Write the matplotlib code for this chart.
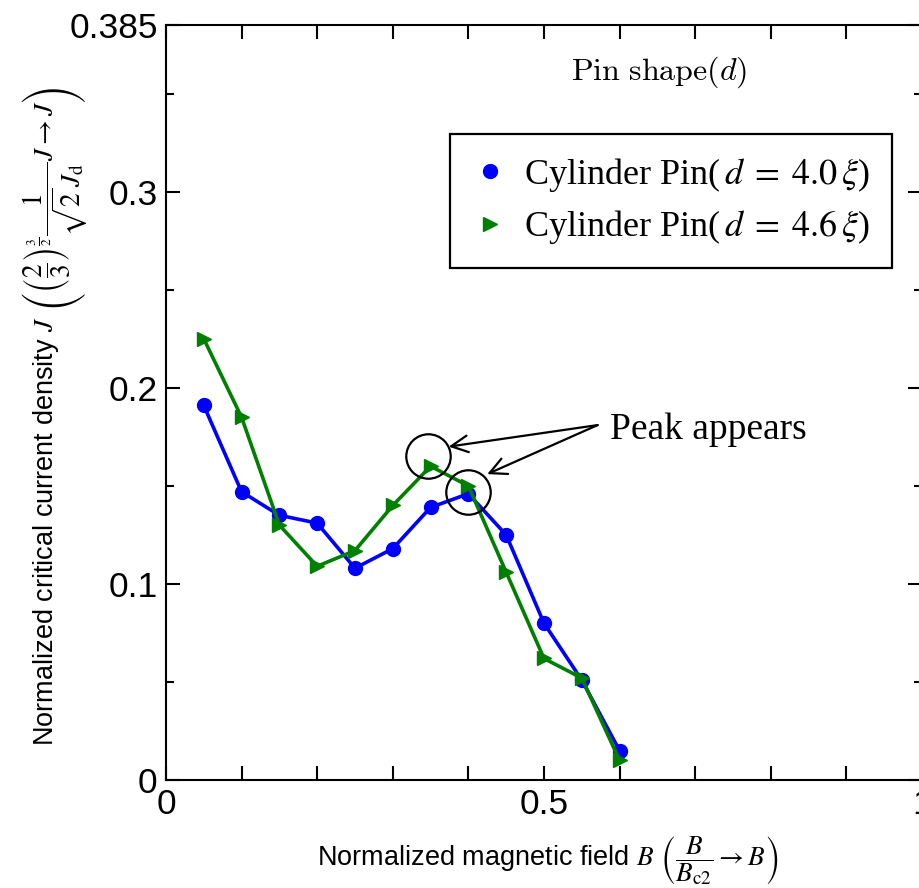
import numpy as np
import matplotlib
matplotlib.use('Agg')
from matplotlib import pyplot as plt
from matplotlib.lines import Line2D
from matplotlib.ticker import MultipleLocator, FixedLocator

plt.rcParams['font.family'] = 'Liberation Sans'
plt.rcParams['mathtext.fontset'] = 'stix'

# data
B = [0.05, 0.1, 0.15, 0.2, 0.25, 0.3, 0.35, 0.4, 0.45, 0.5, 0.55, 0.6]
J_40 = [0.191, 0.147, 0.135, 0.131, 0.108, 0.118, 0.139, 0.146, 0.125, 0.080, 0.051, 0.015]
J_46 = [0.225, 0.185, 0.130, 0.109, 0.117, 0.140, 0.160, 0.150, 0.106, 0.062, 0.052, 0.010]
labels = [r'Cylinder Pin($\,d\;=\;4.0\,\xi$)', r'Cylinder Pin($\,d\;=\;4.6\,\xi$)']

# circled peaks and the arrow source
peak_x = [0.347, 0.400]
peak_y = [0.165, 0.147]
arrow_tips = [(0.374, 0.170), (0.425, 0.156)]
arrow_src = (0.571, 0.181)

yticks = [0, 0.1, 0.2, 0.3, 0.385]
ytick_labels = ['0', '0.1', '0.2', '0.3', '0.385']

fig = plt.figure(figsize=(9.2, 8.88), dpi=100)
ax = fig.add_axes([0.1804, 0.1216, 0.8217, 0.8502])

ax.plot(B, J_40, color='#0000ff', lw=2.6, marker='o', ms=10, zorder=3)
ax.plot(B, J_46, color='#008000', lw=2.6, marker='>', ms=10, zorder=4)

ax.plot(peak_x, peak_y, ls='none', marker='o', ms=32, mfc='none', mec='k', mew=1.6, zorder=5)
for tip in arrow_tips:
    ax.annotate('', xy=tip, xytext=arrow_src,
                arrowprops=dict(arrowstyle='->', color='k', lw=1.6, mutation_scale=30,
                                shrinkA=0, shrinkB=0))
ax.text(0.587, 0.1786, 'Peak appears', family='Liberation Serif', fontsize=27,
        ha='left', va='center')

ax.text(0.653, 0.938, r'$\mathrm{Pin\ shape}(d)$', transform=ax.transAxes,
        fontsize=23, ha='center', va='center', math_fontfamily='cm')

handles = [Line2D([], [], ls='none', marker='o', color='#0000ff', ms=10),
           Line2D([], [], ls='none', marker='>', color='#008000', ms=10)]
leg = ax.legend(handles, labels, loc='upper right', bbox_to_anchor=(0.960, 0.8556),
                borderaxespad=0, fancybox=False, edgecolor='k', framealpha=1,
                prop={'family': 'Liberation Serif', 'size': 26}, handlelength=1.0,
                handletextpad=0.45, labelspacing=0.4, borderpad=0.6)
leg.get_frame().set_linewidth(1.6)

ax.set_xlim(0, 1)
ax.set_ylim(0, 0.385)
ax.xaxis.set_major_locator(MultipleLocator(0.1))
ax.set_xticklabels(['0' if abs(v) < 1e-9 else ('0.5' if abs(v - 0.5) < 1e-9 else ('1' if abs(v - 1) < 1e-9 else ''))
                    for v in ax.get_xticks()])
ax.yaxis.set_major_locator(FixedLocator(yticks))
ax.set_yticklabels(ytick_labels)
ax.yaxis.set_minor_locator(FixedLocator([0.05, 0.15, 0.25, 0.35]))
ax.tick_params(which='both', direction='in', top=True, right=True, width=1.5, labelsize=25.5)
ax.tick_params(which='major', length=10, pad=6)
ax.tick_params(which='minor', length=6)
for s in ax.spines.values():
    s.set_linewidth(1.5)

ax.set_xlabel(r'Normalized magnetic field $B$ $\left(\dfrac{B}{B_{\mathrm{c2}}}\rightarrow B\right)$',
              fontsize=19.5, va='center')
ax.xaxis.set_label_coords(0.505, -0.106)
ax.set_ylabel(r'Normalized critical current density $J$ $\left(\left(\dfrac{2}{3}\right)^{\frac{3}{2}}\dfrac{1}{\sqrt{2}\,J_{\mathrm{d}}}J\rightarrow J\right)$',
              fontsize=19.5, va='center')
ax.yaxis.set_label_coords(-0.147, 0.481)

plt.savefig('out.png', dpi=100)
